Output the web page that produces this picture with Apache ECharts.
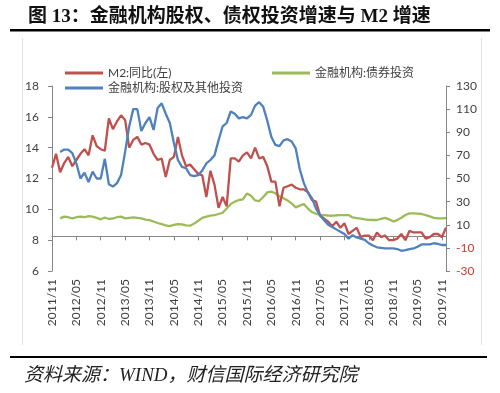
<!DOCTYPE html>
<html><head><meta charset="utf-8">
<script src="https://cdn.jsdelivr.net/npm/echarts@6/dist/echarts.min.js"></script>
<style>html,body{margin:0;padding:0;background:#fff}#c{width:500px;height:393px}</style>
</head><body><div id="c"></div>
<script>
// Categories: monthly 2011/11 .. 2019/12
const startYear = 2011, startMonth = 11, nMonths = 98;
const categories = [];
for (let i = 0; i < nMonths; i++) {
  const t = startMonth - 1 + i;
  const y = startYear + Math.floor(t / 12), m = (t % 12) + 1;
  categories.push(y + '/' + (m < 10 ? '0' + m : m));
}
const seriesNames = ['M2:同比(左)', '金融机构:股权及其他投资', '金融机构:债券投资'];
// M2 YoY (%), left axis
const m2 = [
  12.7, 13.6,
  12.4, 13.0, 13.4, 12.8, 13.2, 13.6, 13.9, 13.5, 14.8, 14.1, 13.9, 13.8,
  15.9, 15.2, 15.7, 16.1, 15.8, 14.0, 14.5, 14.7, 14.2, 14.3, 14.2, 13.6,
  13.2, 13.3, 12.1, 13.2, 13.4, 14.7, 13.5, 12.8, 12.9, 12.6, 12.3, 12.2,
  10.8, 12.5, 11.6, 10.1, 10.8, 10.2, 13.3, 13.3, 13.1, 13.5, 13.7, 13.3,
  14.0, 13.3, 13.4, 12.8, 11.8, 11.8, 10.2, 11.4, 11.5, 11.6, 11.4, 11.3,
  11.3, 11.1, 10.6, 10.5, 9.6, 9.4, 9.2, 8.9, 9.2, 8.8, 9.1, 8.4,
  8.6, 8.8, 8.2, 8.3, 8.3, 8.0, 8.5, 8.2, 8.3, 8.0, 8.0, 8.1,
  8.4, 8.0, 8.6, 8.5, 8.5, 8.5, 8.1, 8.2, 8.4, 8.4, 8.2, 8.8
];
// Equity & other investment YoY (%), right axis
const equity = [
  null, null,
  73, 75, 75, 72, 63, 50, 55, 47, 56, 50, 50, 67,
  45, 43, 46, 53, 73, 95, 110, 110, 91, 98, 103, 92,
  111, 115, 106, 98, 81, 66, 60, 59, 53, 52, 53, 57,
  63, 66, 70, 83, 95, 98, 108, 106, 102, 103, 102, 105,
  113, 116, 112, 100, 86, 79, 78, 83, 84, 82, 76, 58,
  46, 38, 33, 24, 18, 14, 10, 8, 6, 4, 2, -2,
  1, -1, -2, -3, -6, -8, -9.5, -10, -10.5, -10.5, -10.5, -11,
  -12.5, -12, -11, -10.5, -9, -7, -7, -7, -6, -6.5, -7.5, -7.5
];
// Bond investment YoY (%), right axis
const bond = [
  null, null,
  15.5, 17, 16.5, 15.5, 16.5, 17, 16.5, 17.5, 17, 16, 14.7, 16.3,
  15, 15.5, 16.5, 17, 15.5, 16, 16.3, 16, 15.5, 14.5, 14, 12.8,
  11.5, 10.5, 9.5, 8.9, 9.8, 10.6, 10.3, 9.5, 9.2, 11, 13.5, 16,
  17, 17.8, 18.4, 19.3, 20.4, 24, 28, 30, 31.4, 32, 37, 35,
  31, 30.5, 34, 38, 38.6, 37.2, 34.5, 33, 31, 28.5, 25, 26.5,
  28, 24, 21, 19.5, 18.5, 18.4, 18, 17.8, 18.2, 18.4, 18.4, 18.4,
  16.3, 15.8, 15.3, 14.7, 14.3, 14.1, 14.1, 15, 16, 14.7, 12.8, 14,
  16, 18.4, 19.8, 19.9, 19.7, 19.3, 18.4, 17.2, 16, 15.6, 15.6, 15.8
];
const leftTicks = {min: 6, max: 18, interval: 2};
const rightTicks = {min: -30, max: 130, interval: 20};
const titleText = '图 13：金融机构股权、债权投资增速与 M2 增速';
const sourceText = '资料来源：WIND，财信国际经济研究院';

const colors = ['#C0504D', '#4F81BD', '#9BBB59'];
const axisFont = 'Lato, "Noto Sans CJK SC", sans-serif';
const txt = '#404040';
const chart = echarts.init(document.getElementById('c'), null, {renderer: 'canvas'});
chart.setOption({
  animation: false,
  backgroundColor: '#fff',
  title: {
    text: titleText, left: 23, top: 3,
    textStyle: {fontSize: 19, fontWeight: 'bold', color: '#111',
      fontFamily: '"Liberation Serif", "Noto Sans CJK SC", serif'}
  },
  legend: [
    {data: [seriesNames[0], seriesNames[1]], orient: 'vertical', left: 60, top: 62,
     icon: 'rect', itemWidth: 38, itemHeight: 3, itemGap: 3,
     textStyle: {fontSize: 12, color: txt, fontFamily: axisFont, lineHeight: 12}},
    {data: [seriesNames[2]], orient: 'vertical', left: 267, top: 62,
     icon: 'rect', itemWidth: 38, itemHeight: 3,
     textStyle: {fontSize: 12, color: txt, fontFamily: axisFont, lineHeight: 12}}
  ],
  grid: {left: 52, right: 54, top: 86, bottom: 122, containLabel: false},
  xAxis: {
    type: 'category', data: categories, boundaryGap: false,
    axisLine: {lineStyle: {color: '#868686', width: 1}},
    axisTick: {interval: 5, length: 4, lineStyle: {color: '#868686'}},
    axisLabel: {interval: 5, rotate: 90, margin: 8, fontSize: 12, color: txt, fontFamily: axisFont},
    splitLine: {show: false}
  },
  yAxis: [
    {type: 'value', position: 'left', min: leftTicks.min, max: leftTicks.max, interval: leftTicks.interval,
     axisLine: {show: true, lineStyle: {color: '#868686'}},
     axisTick: {show: true, length: 4, lineStyle: {color: '#868686'}},
     axisLabel: {margin: 13, fontSize: 12, color: txt, fontFamily: axisFont},
     splitLine: {show: false}},
    {type: 'value', position: 'right', min: rightTicks.min, max: rightTicks.max, interval: rightTicks.interval,
     axisLine: {show: true, lineStyle: {color: '#868686'}},
     axisTick: {show: true, length: 4, lineStyle: {color: '#868686'}},
     axisLabel: {margin: 10, fontSize: 12, color: txt, fontFamily: axisFont,
       formatter: v => v < 0 ? '{r|' + v + '}' : String(v),
       rich: {r: {color: '#E0352B', fontSize: 12, fontFamily: axisFont}}},
     splitLine: {show: false}}
  ],
  series: [
    {name: seriesNames[0], type: 'line', yAxisIndex: 0, data: m2, showSymbol: false,
     lineStyle: {width: 2.3, color: colors[0]}, itemStyle: {color: colors[0]}, z: 3},
    {name: seriesNames[1], type: 'line', yAxisIndex: 1, data: equity, showSymbol: false,
     lineStyle: {width: 2.3, color: colors[1]}, itemStyle: {color: colors[1]}, z: 4},
    {name: seriesNames[2], type: 'line', yAxisIndex: 1, data: bond, showSymbol: false,
     lineStyle: {width: 2.3, color: colors[2]}, itemStyle: {color: colors[2]}, z: 2}
  ],
  graphic: [
    {type: 'rect', shape: {x: 10, y: 29, width: 480, height: 2.5}, style: {fill: '#000'}},
    {type: 'rect', shape: {x: 10, y: 356, width: 477, height: 2}, style: {fill: '#000'}},
    {type: 'line', shape: {x1: 22.5, y1: 38, x2: 22.5, y2: 345}, style: {stroke: '#e3e3e3', lineWidth: 1}},
    {type: 'line', shape: {x1: 481.5, y1: 38, x2: 481.5, y2: 345}, style: {stroke: '#e3e3e3', lineWidth: 1}},
    {type: 'text', left: 24, top: 366,
     style: {text: sourceText, fill: '#222', fontSize: 19, fontStyle: 'italic',
       fontFamily: '"Liberation Serif", "Noto Sans CJK SC", serif'}}
  ]
});
</script>
</body></html>
